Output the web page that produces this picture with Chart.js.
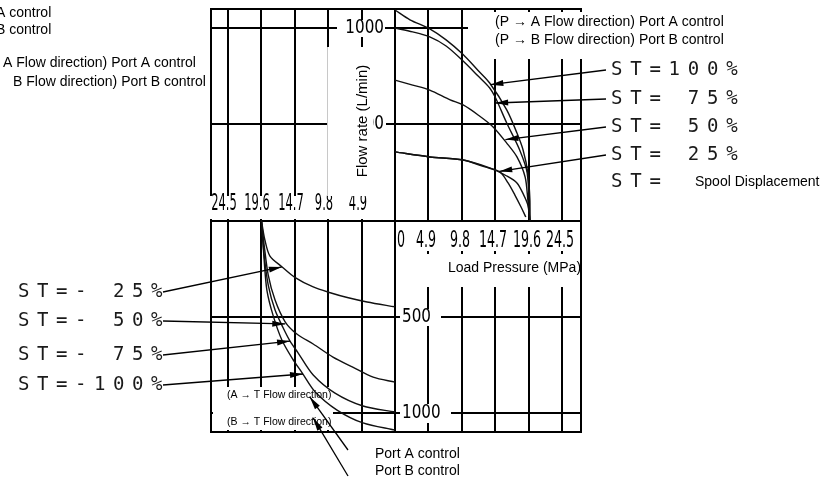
<!DOCTYPE html>
<html>
<head>
<meta charset="utf-8">
<title>Flow rate vs load pressure</title>
<script src="https://cdn.jsdelivr.net/npm/chart.js@4.4.1/dist/chart.umd.min.js"></script>
<style>
  html, body { margin: 0; padding: 0; background: #fff; }
  #box { width: 839px; height: 481px; }
</style>
</head>
<body>
<div id="box"><canvas id="flow-chart" width="839" height="481"></canvas></div>
<script>
// grid ticks
const pressureTicks = [4.9, 9.8, 14.7, 19.6, 24.5];   // MPa
const flowTicks = [500, 1000];                       // L/min

// P -> A / P -> B (upper right quadrant): load pressure (MPa) / flow (L/min)
const st100P = [0, 2.2, 5.1, 7.5, 10.0, 12.2, 13.9, 16.4, 17.9, 18.8, 19.5, 19.8, 19.8];
const st100Q = [1093, 1042, 995, 938, 862, 779, 714, 574, 454, 366, 247, 107, 0];
const st75P = [0, 2.6, 5.1, 7.5, 10.0, 12.2, 13.9, 14.7, 16.4, 18.3, 19.4, 19.8];
const st75Q = [999, 979, 953, 906, 828, 750, 688, 641, 506, 366, 247, 0];
const st50P = [0, 2.6, 5.1, 8.1, 10.0, 12.2, 14.4, 16.4, 17.9, 19.1, 19.5, 19.8];
const st50Q = [729, 703, 677, 626, 600, 548, 486, 402, 330, 226, 107, 0];
const st25aP = [0, 5.1, 10.0, 13.9, 16.4, 17.9, 18.9, 19.5, 19.8];
const st25aQ = [356, 330, 314, 273, 231, 195, 132, 80, 0];
const st25bP = [0, 5.1, 10.0, 13.2, 15.4, 16.6, 17.6, 18.5, 19.2];
const st25bQ = [356, 330, 314, 278, 252, 195, 132, 70, 18];

// A -> T / B -> T (lower left quadrant)
const stM25P = [19.6, 19.1, 18.35, 16.6, 14.7, 12.0, 9.5, 7.0, 4.1, 0];
const stM25Q = [0, 100, 185, 240, 295, 345, 375, 400, 423, 448];
const stM50P = [19.6, 19.2, 18.6, 17.6, 16.1, 14.4, 12.0, 9.1, 6.2, 3.2, 0];
const stM50Q = [0, 127, 283, 413, 527, 589, 641, 709, 761, 813, 839];
const stM75P = [19.6, 19.2, 18.6, 17.6, 16.4, 15.4, 14.2, 12.0, 8.8, 4.7, 0];
const stM75Q = [0, 179, 335, 465, 558, 626, 688, 802, 896, 963, 994];
const stM100P = [19.6, 19.2, 18.8, 17.9, 16.6, 15.1, 13.6, 11.7, 8.5, 4.7, 0];
const stM100Q = [0, 205, 361, 491, 620, 714, 792, 890, 984, 1051, 1088];

const stLabelsRight = ['ST=100%', 'ST= 75%', 'ST= 50%', 'ST= 25%', 'ST='];
const stLabelsLeft = ['ST=- 25%', 'ST=- 50%', 'ST=- 75%', 'ST=-100%'];

// where each leader arrow touches its curve (pressure, flow)
const arrowRight = [[14.0, 705], [14.7, 610], [16.2, 420], [15.3, 255]];
const arrowLeft = [[16.6, 241], [16.1, 537], [15.4, 626], [13.5, 797]];
const arrowPort = [[12.5, 916], [12.0, 1025]];

const SANS = '"Liberation Sans", Arial, sans-serif';

function pts(P, Q, sign) {
    return P.map((p, i) => ({ x: sign * p, y: sign * Q[i] }));
}

const curves = [
    pts(st100P, st100Q, 1), pts(st75P, st75Q, 1), pts(st50P, st50Q, 1),
    pts(st25aP, st25aQ, 1), pts(st25bP, st25bQ, 1),
    pts(stM25P, stM25Q, -1), pts(stM50P, stM50Q, -1),
    pts(stM75P, stM75Q, -1), pts(stM100P, stM100Q, -1),
];

function fmtP(p) {
    return p.toFixed(1);
}

function narrow(ctx, str, x, y, size, sx, align) {
    ctx.save();
    ctx.translate(x, y);
    ctx.scale(sx, 1);
    ctx.font = size + 'px "DejaVu Sans"';
    ctx.textAlign = align;
    ctx.textBaseline = 'middle';
    ctx.fillText(str, 0, 0);
    ctx.restore();
}

function spaced(ctx, str, x, y, pitch) {
    ctx.font = '19px "DejaVu Sans Mono"';
    ctx.textAlign = 'left';
    ctx.textBaseline = 'middle';
    for (let i = 0; i < str.length; i++) ctx.fillText(str[i], x + i * pitch, y);
}

function arrow(ctx, x1, y1, x2, y2) {
    // line from (x1,y1) with a filled head at (x2,y2)
    ctx.beginPath(); ctx.moveTo(x1, y1); ctx.lineTo(x2, y2); ctx.stroke();
    const a = Math.atan2(y2 - y1, x2 - x1);
    ctx.beginPath();
    ctx.moveTo(x2, y2);
    ctx.lineTo(x2 - 13 * Math.cos(a) + 3 * Math.sin(a), y2 - 13 * Math.sin(a) - 3 * Math.cos(a));
    ctx.lineTo(x2 - 13 * Math.cos(a) - 3 * Math.sin(a), y2 - 13 * Math.sin(a) + 3 * Math.cos(a));
    ctx.closePath();
    ctx.fill();
}

const quadrants = {
    id: 'quadrants',
    beforeDatasetsDraw(chart) {
        const { ctx, scales: { x, y } } = chart;
        const X = v => Math.round(x.getPixelForValue(v));
        const Y = v => Math.round(y.getPixelForValue(v));
        const L = X(x.min), R = X(x.max), T = Y(y.max), B = Y(y.min), cx = X(0), cy = Y(0);
        ctx.save();
        ctx.strokeStyle = '#000';
        ctx.fillStyle = '#000';
        ctx.lineWidth = 2;
        const seg = (x1, y1, x2, y2) => { ctx.beginPath(); ctx.moveTo(x1, y1); ctx.lineTo(x2, y2); ctx.stroke(); };

        // frame and axes
        seg(L - 1, T, R + 1, T); seg(L - 1, B, R + 1, B);
        seg(L, T, L, B); seg(R, T, R, B);
        seg(cx, T, cx, B); seg(L, cy, R, cy);

        // grid
        flowTicks.forEach(q => { seg(L, Y(q), R, Y(q)); seg(L, Y(-q), R, Y(-q)); });
        pressureTicks.forEach(p => {
            seg(X(-p), T, X(-p), B);
            seg(X(p), T, X(p), cy);
            seg(X(p), cy + 66, X(p), B);
            ctx.fillRect(X(p) - 1, cy + 30, 2, 3);
        });

        ctx.fillStyle = '#fff';
        // band for the left pressure ticks
        ctx.fillRect(L - 2, cy - 25, cx - L + 1, 23);
        // band for the right pressure ticks
        ctx.fillRect(cx + 1, cy + 1, R - cx - 2, 28);
        ctx.fillRect(cx + 1, cy + 33, R - cx - 2, 33);
        // note box over top right
        ctx.fillRect(468, T + 3, R - 468 + 3, 47);
        // note box over lower left
        ctx.fillRect(L + 2, 387, 333 - L - 2, 43);
        // flow tick label boxes
        ctx.fillRect(337, Y(1000) - 8, 48, 17);
        ctx.fillRect(372, Y(500) - 8, 14, 17);
        ctx.fillRect(cx + 5, Y(-500) - 8, 41, 17);
        ctx.fillRect(cx + 5, Y(-1000) - 9, 51, 19);

        // tick labels
        ctx.fillStyle = '#000';
        pressureTicks.forEach(p => {
            narrow(ctx, fmtP(p), X(-p) - 4, cy - 17, 23, 0.5, 'center');
            narrow(ctx, fmtP(p), X(p) - 2, cy + 20, 23, 0.55, 'center');
        });
        narrow(ctx, '0', cx + 2, cy + 20, 23, 0.55, 'left');
        narrow(ctx, '1000', 384, Y(1000), 19, 0.8, 'right');
        narrow(ctx, '500', 384, Y(500), 19, 0.8, 'right');
        narrow(ctx, '500', cx + 7, Y(-500), 19, 0.8, 'left');
        narrow(ctx, '1000', cx + 7, Y(-1000), 19, 0.8, 'left');

        // y title box, covers part of the 500 label
        ctx.fillStyle = '#fff';
        ctx.fillRect(327, 47, 46, 149);
        ctx.strokeStyle = '#c8c8c8';
        ctx.lineWidth = 1;
        seg(327.5, 47, 327.5, 196);
        ctx.fillStyle = '#000';
        ctx.save();
        ctx.translate(363, 121);
        ctx.rotate(-Math.PI / 2);
        ctx.font = '15px ' + SANS;
        ctx.textAlign = 'center';
        ctx.textBaseline = 'middle';
        ctx.fillText('Flow rate (L/min)', 0, 0);
        ctx.restore();
        ctx.restore();
    },
    afterDatasetsDraw(chart) {
        const { ctx, scales: { x, y } } = chart;
        const X = v => x.getPixelForValue(v);
        const Y = v => y.getPixelForValue(v);
        const cy = Y(0);
        ctx.save();
        ctx.fillStyle = '#000';
        ctx.strokeStyle = '#000';
        ctx.lineWidth = 1.3;

        ctx.font = '14px ' + SANS;
        ctx.textAlign = 'left';
        ctx.textBaseline = 'middle';
        ctx.fillText('Load Pressure (MPa)', 448, cy + 48);

        // notes
        ctx.fillText('(P \u2192 A Flow direction) Port A control', 495, 22);
        ctx.fillText('(P \u2192 B Flow direction) Port B control', 495, 40);
        const pre = ctx.measureText('(P \u2192 ').width;
        ctx.fillText('Port A control', -ctx.measureText('Port ').width - 4, 13);
        ctx.fillText('Port B control', -ctx.measureText('Port ').width - 4, 30);
        ctx.fillText('(P \u2192 A Flow direction) Port A control', 3 - pre, 63);
        ctx.save();
        ctx.beginPath();
        ctx.rect(9, 70, 300, 24);
        ctx.clip();
        ctx.fillText('(P \u2192 B Flow direction) Port B control', 13 - pre, 82);
        ctx.restore();
        ctx.fillText('Port A control', 375, 454);
        ctx.fillText('Port B control', 375, 471);
        ctx.fillText('Spool Displacement', 695, 182);
        ctx.font = '10.5px ' + SANS;
        ctx.fillText('(A \u2192 T Flow direction)', 227, 395);
        ctx.fillText('(B \u2192 T Flow direction)', 227, 422);

        // spool displacement labels with leaders
        const rowsR = [70, 99, 127, 155, 182];
        stLabelsRight.forEach((s, i) => {
            ctx.fillStyle = '#1a1a1a';
            spaced(ctx, s, 611, rowsR[i], 19.2);
            ctx.fillStyle = '#000';
            if (arrowRight[i]) arrow(ctx, 606, rowsR[i], X(arrowRight[i][0]), Y(arrowRight[i][1]));
        });
        const rowsL = [292, 321, 355, 385];
        stLabelsLeft.forEach((s, i) => {
            ctx.fillStyle = '#1a1a1a';
            spaced(ctx, s, 18, rowsL[i], 19);
            ctx.fillStyle = '#000';
            arrow(ctx, 163, rowsL[i], X(-arrowLeft[i][0]), Y(-arrowLeft[i][1]));
        });
        arrow(ctx, 348, 450, X(-arrowPort[0][0]), Y(-arrowPort[0][1]));
        arrow(ctx, 348, 476, X(-arrowPort[1][0]), Y(-arrowPort[1][1]));
        ctx.restore();
    }
};

new Chart(document.getElementById('flow-chart'), {
    type: 'scatter',
    data: {
        datasets: curves.map(c => ({
            data: c,
            showLine: true,
            borderColor: '#111',
            borderWidth: 1.4,
            pointRadius: 0,
            tension: 0.3,
            fill: false,
        }))
    },
    options: {
        responsive: false,
        animation: false,
        devicePixelRatio: 1,
        layout: { padding: { left: 211, top: 9, right: 258, bottom: 49 } },
        plugins: { legend: { display: false }, tooltip: { enabled: false }, title: { display: false } },
        scales: {
            x: { type: 'linear', min: -27.0, max: 27.3, display: false },
            y: { type: 'linear', min: -1098, max: 1098, display: false }
        }
    },
    plugins: [quadrants]
});
</script>
</body>
</html>
